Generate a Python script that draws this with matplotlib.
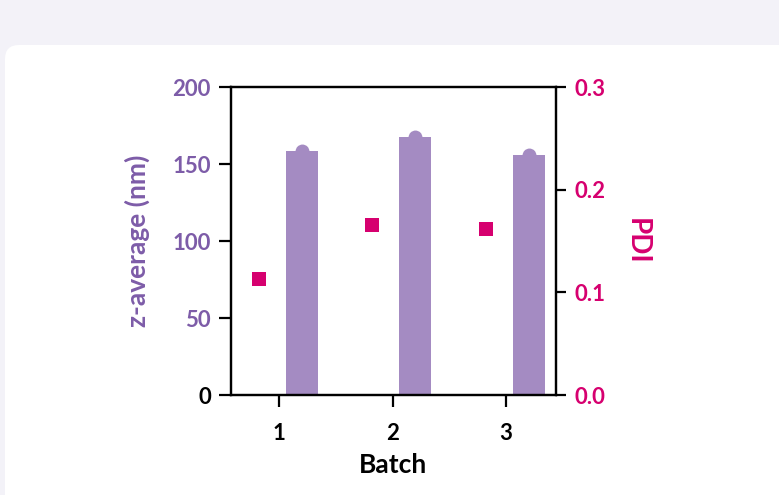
"""Batch z-average (bars) and PDI (squares) on twin axes."""
import matplotlib

matplotlib.use("Agg")
import matplotlib.pyplot as plt
from matplotlib.patches import FancyBboxPatch

# Values
batches = [1, 2, 3]
batch_labels = ["1", "2", "3"]
z_average = [158.5, 167.5, 156.0]  # nm
pdi = [0.113, 0.166, 0.162]

z_ticks = [0, 50, 100, 150, 200]
pdi_ticks = [0.0, 0.1, 0.2, 0.3]

purple_text = "#7d5ca8"
purple_bar = "#a48bc2"
magenta = "#d6006f"
page_bg = "#f3f2f8"

plt.rcParams["font.family"] = ["Lato", "DejaVu Sans"]
plt.rcParams["font.weight"] = "bold"

fig = plt.figure(figsize=(7.79, 4.95), dpi=100)
fig.patch.set_facecolor(page_bg)

# White card with a rounded top-left corner (in inches so the corner stays round)
card = FancyBboxPatch(
    (0.05, -0.5), 8.5, 5.0,
    boxstyle="round,pad=0,rounding_size=0.14",
    transform=fig.dpi_scale_trans,
    facecolor="white", edgecolor="none", zorder=-10,
)
fig.patches.append(card)

ax = fig.add_axes([0.2965, 0.202, 0.4172, 0.6222])
ax.set_facecolor("none")

bar_offset = 0.2
bar_width = 0.28
bar_x = [b + bar_offset for b in batches]
ax.bar(bar_x, z_average, width=bar_width, color=purple_bar, zorder=1)
# rounded caps on top of each bar
ax.plot(bar_x, z_average, "o", ms=10, color=purple_bar, mew=0, zorder=1,
        clip_on=False)

ax.set_xlim(0.577, 3.44)
ax.set_ylim(0, 200)
ax.set_yticks(z_ticks)
ax.set_yticklabels([str(t) for t in z_ticks])
ax.set_xticks(batches)
ax.set_xticklabels(batch_labels)

for side in ["left", "right", "top", "bottom"]:
    ax.spines[side].set_linewidth(1.6)
    ax.spines[side].set_color("black")

ax.tick_params(axis="y", length=8.5, width=1.6, labelsize=16, pad=6,
               labelcolor=purple_text)
ax.tick_params(axis="x", length=8.5, width=1.6, labelsize=16, pad=12,
               labelcolor="black")
ax.get_yticklabels()[0].set_color("black")

ax.set_ylabel("z-average (nm)", color=purple_text, fontsize=19,
              fontweight="bold", labelpad=16)
ax.set_xlabel("Batch", color="black", fontsize=19, fontweight="bold",
              labelpad=6)

ax2 = ax.twinx()
sq_offset = -0.18
sq_x = [b + sq_offset for b in batches]
ax2.plot(sq_x, pdi, "s", ms=10, color=magenta, mew=0, zorder=3)
ax2.set_ylim(0, 0.3)
ax2.set_yticks(pdi_ticks)
ax2.set_yticklabels([f"{t:.1f}" for t in pdi_ticks])
for side in ["left", "right", "top", "bottom"]:
    ax2.spines[side].set_linewidth(1.6)
ax2.tick_params(axis="y", length=7.5, width=1.6, labelsize=16, pad=6,
                labelcolor=magenta)
ax2.set_ylabel("PDI", color=magenta, fontsize=20, fontweight="bold",
               rotation=-90, labelpad=32)

fig.savefig("out.png", dpi=100, facecolor=fig.get_facecolor())
